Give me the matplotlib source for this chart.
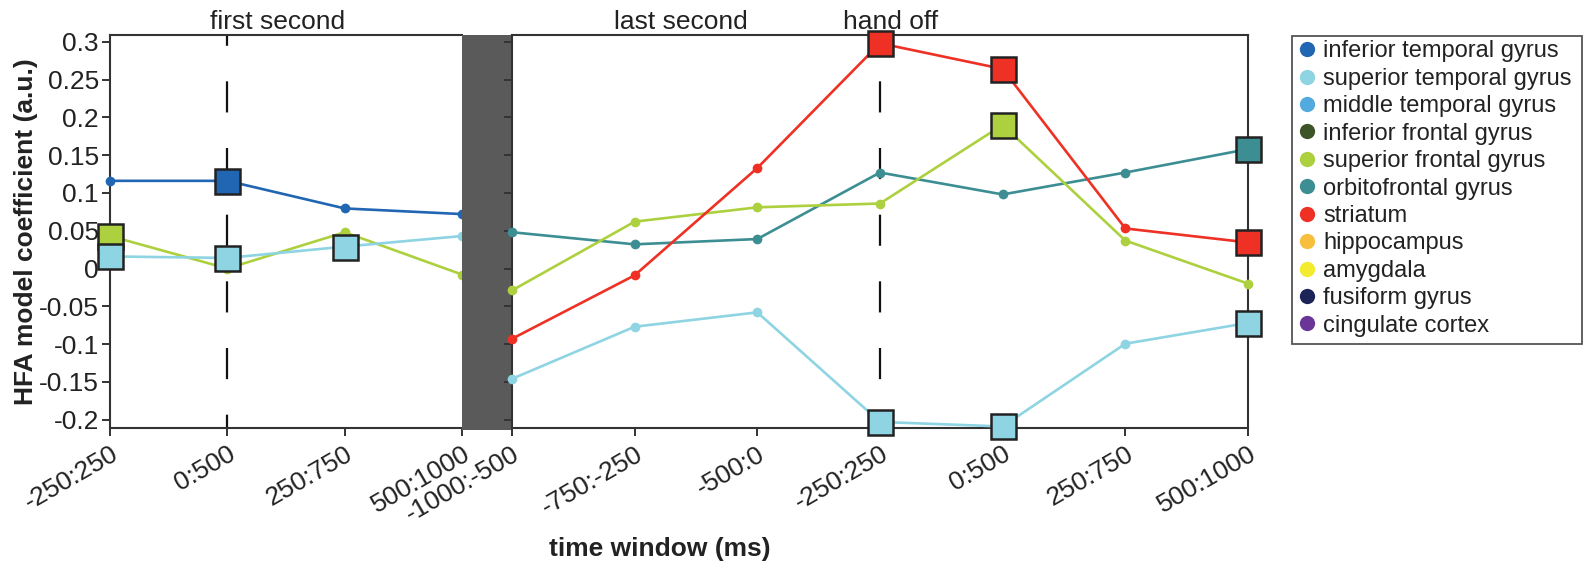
import numpy as np
import matplotlib
matplotlib.use('Agg')
import matplotlib.pyplot as plt
from matplotlib.lines import Line2D
from matplotlib.patches import Rectangle

plt.rcParams['font.family'] = ['Liberation Sans', 'DejaVu Sans']

regions = ['inferior temporal gyrus', 'superior temporal gyrus', 'middle temporal gyrus',
           'inferior frontal gyrus', 'superior frontal gyrus', 'orbitofrontal gyrus',
           'striatum', 'hippocampus', 'amygdala', 'fusiform gyrus', 'cingulate cortex']
region_colors = ['#2166b3', '#8ed4e3', '#52aadf', '#3d5428', '#add03f', '#3c8e93',
                 '#ee3124', '#f8bf3c', '#f4eb2f', '#1b2358', '#6a3596']

first_labels = ['-250:250', '0:500', '250:750', '500:1000']
last_labels = ['-1000:-500', '-750:-250', '-500:0', '-250:250', '0:500', '250:750', '500:1000']

# first second of the trial (series, value, significant)
first_itg = [0.116, 0.116, 0.0795, 0.072]
first_itg_sig = [0, 1, 0, 0]
first_sfg = [0.043, 0.0, 0.048, -0.008]
first_sfg_sig = [1, 0, 0, 0]
first_stg = [0.016, 0.014, 0.029, 0.043]
first_stg_sig = [1, 1, 1, 0]

# last second before hand off
last_ofg = [0.048, 0.032, 0.039, 0.127, 0.098, 0.127, 0.158]
last_ofg_sig = [0, 0, 0, 0, 0, 0, 1]
last_sfg = [-0.029, 0.062, 0.081, 0.086, 0.190, 0.037, -0.020]
last_sfg_sig = [0, 0, 0, 0, 1, 0, 0]
last_str = [-0.093, -0.009, 0.133, 0.298, 0.264, 0.053, 0.0345]
last_str_sig = [0, 0, 0, 1, 1, 0, 1]
last_stg = [-0.146, -0.077, -0.058, -0.203, -0.209, -0.0995, -0.072]
last_stg_sig = [0, 0, 0, 1, 1, 0, 1]

first_series = [(first_sfg, first_sfg_sig, 4), (first_itg, first_itg_sig, 0),
                (first_stg, first_stg_sig, 1)]
last_series = [(last_ofg, last_ofg_sig, 5), (last_sfg, last_sfg_sig, 4),
               (last_str, last_str_sig, 6), (last_stg, last_stg_sig, 1)]

TXT = '#222222'
SPINE = '#333333'
FS = 19
W, H = 1586, 565

fig = plt.figure(figsize=(W / 100, H / 100), dpi=100)
axL = fig.add_axes([0.0694, 0.2425, 0.2219, 0.6956])
axG = fig.add_axes([0.2913, 0.2389, 0.0315, 0.6991])
axR = fig.add_axes([0.3228, 0.2425, 0.4641, 0.6956])

axG.set_facecolor('#5a5a5a')
axG.set_xticks([])
axG.set_yticks([])
for s in axG.spines.values():
    s.set_visible(False)


def draw(ax, series, labels, dash_at):
    x = np.arange(len(labels))
    ax.axvline(dash_at, color='#111111', lw=1.6, ls=(8, (14, 16)), zorder=1)
    for vals, sig, ci in series:
        ax.plot(x, vals, color=region_colors[ci], lw=1.9, marker='o', ms=7,
                mew=0, zorder=3, clip_on=False)
    for vals, sig, ci in series:
        sig = np.array(sig, dtype=bool)
        ax.plot(x[sig], np.array(vals)[sig], ls='none', marker='s', ms=18,
                mfc=region_colors[ci], mec='#222222', mew=1.8, zorder=5, clip_on=False)
    ax.set_xlim(0, len(labels) - 1)
    ax.set_ylim(-0.211, 0.309)
    ax.set_yticks(np.arange(-0.2, 0.301, 0.05))
    ax.set_xticks(x)
    ax.set_xticklabels(labels, rotation=30, ha='right', va='top',
                       rotation_mode='anchor', fontsize=FS, color=TXT)
    ax.tick_params(direction='out', length=6, width=1.4, color=SPINE, pad=4)
    for s in ax.spines.values():
        s.set_color(SPINE)
        s.set_linewidth(1.5)


draw(axL, first_series, first_labels, 1)
draw(axR, last_series, last_labels, 3)

axL.set_yticklabels(['-0.2', '-0.15', '-0.1', '-0.05', '0', '0.05', '0.1', '0.15',
                     '0.2', '0.25', '0.3'], fontsize=FS, color=TXT)
axL.tick_params(axis='y', pad=2)
axL.spines['right'].set_visible(False)
axR.set_yticklabels([])

axL.set_ylabel('HFA model coefficient (a.u.)', fontsize=FS, fontweight='bold',
               color=TXT, labelpad=1)
fig.text(0.416, 0.016, 'time window (ms)', fontsize=FS, fontweight='bold',
         color=TXT, ha='center', va='baseline')

axL.text(1.43, 0.317, 'first second', fontsize=FS, color=TXT, ha='center', va='baseline')
axR.text(1.38, 0.317, 'last second', fontsize=FS, color=TXT, ha='center', va='baseline')
axR.text(3.09, 0.317, 'hand off', fontsize=FS, color=TXT, ha='center', va='baseline')

# legend box drawn by hand (wider on the right than the entries)
fig.patches.append(Rectangle((1292 / W, 1 - 344 / H), 290 / W, 308 / H,
                             transform=fig.transFigure, fill=False,
                             ec='#555555', lw=1.3))
handles = [Line2D([], [], ls='none', marker='o', ms=11, mew=0, mfc=c) for c in region_colors]
leg = fig.legend(handles, regions, loc='upper left', bbox_to_anchor=(1296 / W, 1 - 38 / H),
                 borderaxespad=0, fontsize=17, frameon=False,
                 handlelength=0.7, handletextpad=0.35, borderpad=0.1,
                 labelspacing=0.23)
for t in leg.get_texts():
    t.set_color(TXT)

plt.savefig('out.png', dpi=100)
